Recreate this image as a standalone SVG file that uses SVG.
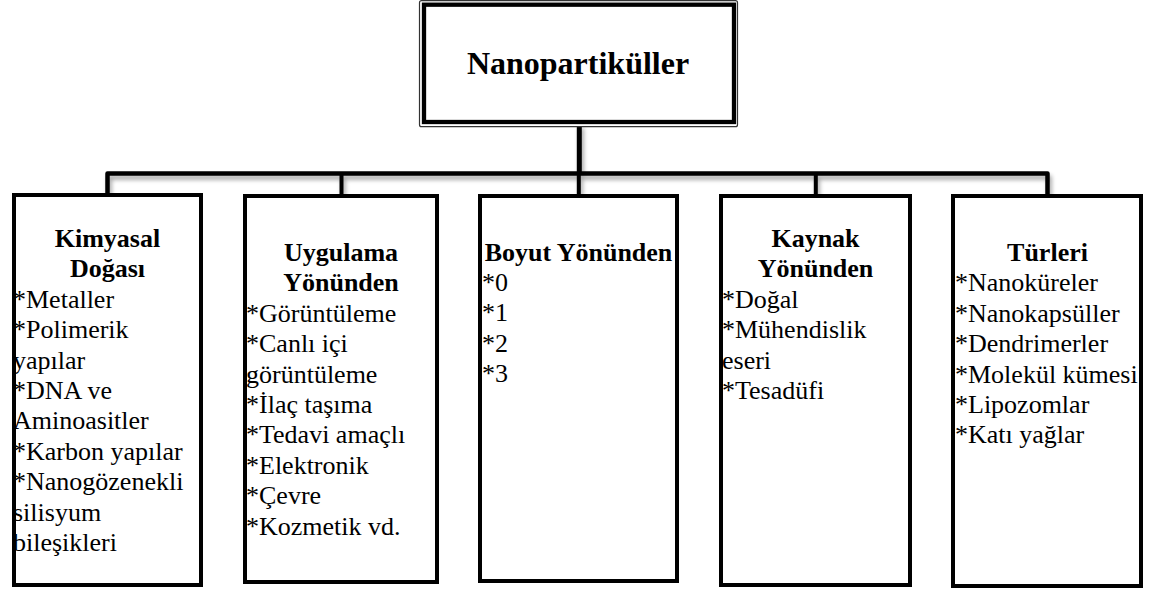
<svg xmlns="http://www.w3.org/2000/svg" width="1152" height="592" viewBox="0 0 1152 592">
  <style>
    .box { fill: #fff; stroke: #000; stroke-width: 4; }
    text { font-family: 'Liberation Serif', 'Times New Roman', Tinos, 'DejaVu Serif', serif; fill: #000; }
    .hd { font-size: 26px; font-weight: bold; text-anchor: middle; }
    .it { font-size: 26px; }
    .title { font-size: 32px; font-weight: bold; text-anchor: middle; }
    .conn { fill: none; stroke: #000; }
  </style>
  <defs>
    <filter id="sh" x="-5%" y="-50%" width="110%" height="200%">
      <feDropShadow dx="2" dy="4" stdDeviation="2" flood-color="#000" flood-opacity="0.35"/>
    </filter>
  </defs>
  <rect width="1152" height="592" fill="#fff"/>

  <g id="connectors" filter="url(#sh)">
    <path class="conn" d="M579.3,124 V173.5" stroke-width="5"/>
    <path class="conn" d="M107.5,196 V173.5 H1047.5 V196" stroke-width="4.5" stroke-linejoin="round"/>
    <path class="conn" d="M341.5,173.5 V196 M578.8,173.5 V196 M815.8,173.5 V196" stroke-width="4"/>
  </g>

  <g id="root">
    <rect x="419.5" y="0.7" width="318" height="126" rx="2" fill="#fff" stroke="#333" stroke-width="1.2"/>
    <rect x="424" y="4.7" width="310" height="117.3" fill="#fff" stroke="#000" stroke-width="4.3"/>
    <text class="title" x="578" y="74" font-family="Liberation Serif, serif">Nanopartiküller</text>
  </g>

  <g id="kimyasal">
    <rect class="box" x="14" y="195" width="187" height="390"/>
    <text class="hd" x="107.5" y="247">Kimyasal<tspan x="107.5" dy="30.4">Doğası</tspan></text>
    <text class="it" x="13" y="307.8">*Metaller<tspan x="13" dy="30.4">*Polimerik</tspan><tspan x="13" dy="30.4">yapılar</tspan><tspan x="13" dy="30.4">*DNA ve</tspan><tspan x="13" dy="30.4">Aminoasitler</tspan><tspan x="13" dy="30.4">*Karbon yapılar</tspan><tspan x="13" dy="30.4">*Nanogözenekli</tspan><tspan x="13" dy="30.4">silisyum</tspan><tspan x="13" dy="30.4">bileşikleri</tspan></text>
  </g>

  <g id="uygulama">
    <rect class="box" x="245" y="196" width="192" height="386"/>
    <text class="hd" x="341" y="261">Uygulama<tspan x="341" dy="30.4">Yönünden</tspan></text>
    <text class="it" x="246" y="321.8">*Görüntüleme<tspan x="246" dy="30.4">*Canlı içi</tspan><tspan x="246" dy="30.4">görüntüleme</tspan><tspan x="246" dy="30.4">*İlaç taşıma</tspan><tspan x="246" dy="30.4">*Tedavi amaçlı</tspan><tspan x="246" dy="30.4">*Elektronik</tspan><tspan x="246" dy="30.4">*Çevre</tspan><tspan x="246" dy="30.4">*Kozmetik vd.</tspan></text>
  </g>

  <g id="boyut">
    <rect class="box" x="480" y="196" width="197" height="385"/>
    <text class="hd" x="578.5" y="260.5">Boyut Yönünden</text>
    <text class="it" x="482" y="290.9">*0<tspan x="482" dy="30.4">*1</tspan><tspan x="482" dy="30.4">*2</tspan><tspan x="482" dy="30.4">*3</tspan></text>
  </g>

  <g id="kaynak">
    <rect class="box" x="721" y="196" width="189" height="389"/>
    <text class="hd" x="815.5" y="247">Kaynak<tspan x="815.5" dy="30.4">Yönünden</tspan></text>
    <text class="it" x="722" y="307.8">*Doğal<tspan x="722" dy="30.4">*Mühendislik</tspan><tspan x="722" dy="30.4">eseri</tspan><tspan x="722" dy="30.4">*Tesadüfi</tspan></text>
  </g>

  <g id="turleri">
    <rect class="box" x="953" y="196" width="188" height="390"/>
    <text class="hd" x="1047.5" y="261">Türleri</text>
    <text class="it" x="955" y="291.4">*Nanoküreler<tspan x="955" dy="30.4">*Nanokapsüller</tspan><tspan x="955" dy="30.4">*Dendrimerler</tspan><tspan x="955" dy="30.4">*Molekül kümesi</tspan><tspan x="955" dy="30.4">*Lipozomlar</tspan><tspan x="955" dy="30.4">*Katı yağlar</tspan></text>
  </g>
</svg>
